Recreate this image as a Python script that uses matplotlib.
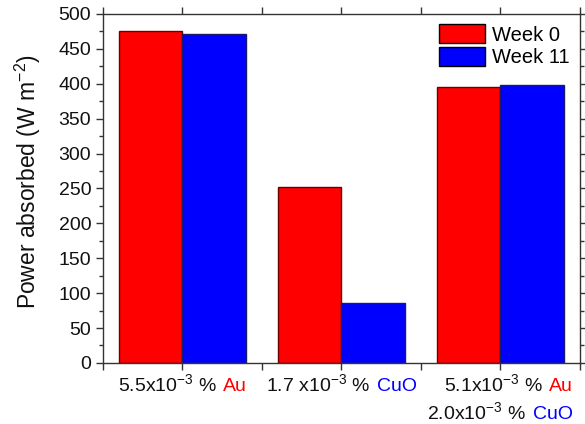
import numpy as np
import matplotlib
matplotlib.use("Agg")
import matplotlib.pyplot as plt
from matplotlib.offsetbox import TextArea, HPacker, VPacker, AnnotationBbox
from matplotlib.ticker import MultipleLocator

plt.rcParams['font.family'] = ['Liberation Sans', 'DejaVu Sans']
plt.rcParams['mathtext.fontset'] = 'custom'
plt.rcParams['mathtext.rm'] = 'Liberation Sans'
plt.rcParams['mathtext.it'] = 'Liberation Sans:italic'

groups = [1, 2, 3]
week0 = [475, 252, 395]
week11 = [471, 86, 398]
series_names = ["Week 0", "Week 11"]

# tick label pieces: (text, colour) per line
label_lines = [
    [[("5.5x10$^{-3}$ %", "#111111"), ("Au", "red")]],
    [[("1.7 x10$^{-3}$ %", "#111111"), ("CuO", "blue")]],
    [[("5.1x10$^{-3}$ %", "#111111"), ("Au", "red")],
     [("2.0x10$^{-3}$ %", "#111111"), ("CuO", "blue")]],
]

fig = plt.figure(figsize=(5.85, 4.24), dpi=100)
ax = fig.add_axes([0.176, 0.144, 0.815, 0.823])

w = 0.4
x = np.array(groups, dtype=float)
ax.bar(x - w / 2, week0, width=w, color="#ff0000", edgecolor="#6b0000",
       linewidth=1.0, label=series_names[0])
ax.bar(x + w / 2, week11, width=w, color="#0000ff", edgecolor="#1a1a6b",
       linewidth=1.0, label=series_names[1])

ax.set_xlim(0.5, 3.5)
ax.set_ylim(0, 500)
ax.yaxis.set_major_locator(MultipleLocator(50))
ax.yaxis.set_minor_locator(MultipleLocator(25))
ax.xaxis.set_major_locator(MultipleLocator(0.5))
ax.set_xticklabels([])
ax.tick_params(axis="both", which="both", direction="out",
               top=True, right=True, labelsize=14, colors="#333333",
               labelcolor="#111111")
ax.tick_params(axis="both", which="major", length=5, width=1)
ax.tick_params(axis="both", which="minor", length=3, width=1)
for s in ax.spines.values():
    s.set_color("#333333")
    s.set_linewidth(1.0)

ax.set_ylabel("Power absorbed (W m$^{-2}$)", fontsize=16.5, color="#111111")
ax.yaxis.set_label_coords(-0.125, 0.52)

for g, lines in zip(groups, label_lines):
    rows = []
    for line in lines:
        parts = [TextArea(t, textprops=dict(color=c, fontsize=14)) for t, c in line]
        rows.append(HPacker(children=parts, align="baseline", pad=0, sep=5))
    box = VPacker(children=rows, align="right", pad=0, sep=4)
    ab = AnnotationBbox(box, (g, 0), xybox=(g, -0.03),
                        xycoords=("data", "axes fraction"),
                        boxcoords=("data", "axes fraction"),
                        box_alignment=(0.5, 1.0), frameon=False,
                        annotation_clip=False)
    ax.add_artist(ab)

leg = ax.legend(loc="upper right", frameon=False, fontsize=14.5,
                handlelength=2.3, handleheight=1.1, handletextpad=0.35,
                labelspacing=0.1, borderaxespad=0.1)
for h in leg.legend_handles:
    h.set_edgecolor("black")

fig.savefig("out.png", dpi=100)
